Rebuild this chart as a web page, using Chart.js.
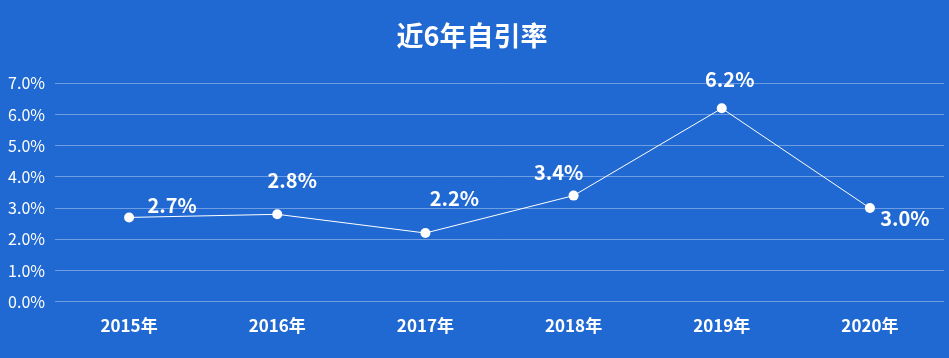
<!DOCTYPE html>
<html>
<head>
<meta charset="utf-8">
<script src="https://cdn.jsdelivr.net/npm/chart.js@4"></script>
<style>
html,body{margin:0;padding:0;background:#2169d2;}
#wrap{width:949px;height:358px;position:relative;}
</style>
</head>
<body>
<div id="wrap"><canvas id="c" width="949" height="358"></canvas></div>
<script>
const categories = ['2015年','2016年','2017年','2018年','2019年','2020年'];
const selfCitationRate = [2.7, 2.8, 2.2, 3.4, 6.2, 3.0];
const yTickValues = [0, 1, 2, 3, 4, 5, 6, 7];
const chartTitle = '近6年自引率';

// label placement offsets (style only)
const labelOffsets = [[43,-12],[15,-34],[29,-35],[-15,-23],[8,-29],[35,10]];

const FONT = '"Noto Sans CJK SC","Noto Sans",sans-serif';

const labelPlugin = {
  id: 'pointLabels',
  afterDatasetsDraw(chart) {
    const ctx = chart.ctx;
    const meta = chart.getDatasetMeta(0);
    ctx.save();
    ctx.fillStyle = '#ffffff';
    ctx.font = 'bold 20px ' + FONT;
    ctx.textAlign = 'center';
    ctx.textBaseline = 'middle';
    meta.data.forEach((pt, i) => {
      const v = chart.data.datasets[0].data[i];
      const o = labelOffsets[i];
      ctx.fillText(v.toFixed(1) + '%', pt.x + o[0], pt.y + o[1]);
    });
    ctx.restore();
  }
};

new Chart(document.getElementById('c'), {
  type: 'line',
  data: {
    labels: categories,
    datasets: [{
      data: selfCitationRate,
      borderColor: '#ffffff',
      borderWidth: 1,
      pointBackgroundColor: '#ffffff',
      pointBorderColor: '#ffffff',
      pointRadius: 5,
      pointBorderWidth: 0,
      tension: 0
    }]
  },
  options: {
    responsive: false,
    animation: false,
    layout: { padding: { left: 0, right: 5, top: 0, bottom: 8 } },
    plugins: {
      legend: { display: false },
      tooltip: { enabled: false },
      title: {
        display: true,
        text: chartTitle,
        color: '#ffffff',
        font: { family: FONT, size: 27, weight: 'bold', lineHeight: 1.2 },
        padding: { top: 20, bottom: 31 }
      }
    },
    scales: {
      x: {
        offset: true,
        grid: { display: false, drawTicks: false },
        border: { display: false },
        ticks: {
          color: '#ffffff',
          padding: 14,
          font: { family: FONT, size: 17, weight: 'bold' }
        }
      },
      y: {
        min: 0,
        max: 7,
        afterBuildTicks(scale) { scale.ticks = yTickValues.map(v => ({ value: v })); },
        afterFit(scale) { scale.width = 55; },
        grid: { color: 'rgba(255,255,255,0.35)', lineWidth: 1, drawTicks: false },
        border: { display: false },
        ticks: {
          color: '#ffffff',
          padding: 10,
          font: { family: FONT, size: 16 },
          callback: v => v.toFixed(1) + '%'
        }
      }
    }
  },
  plugins: [labelPlugin]
});
</script>
</body>
</html>
